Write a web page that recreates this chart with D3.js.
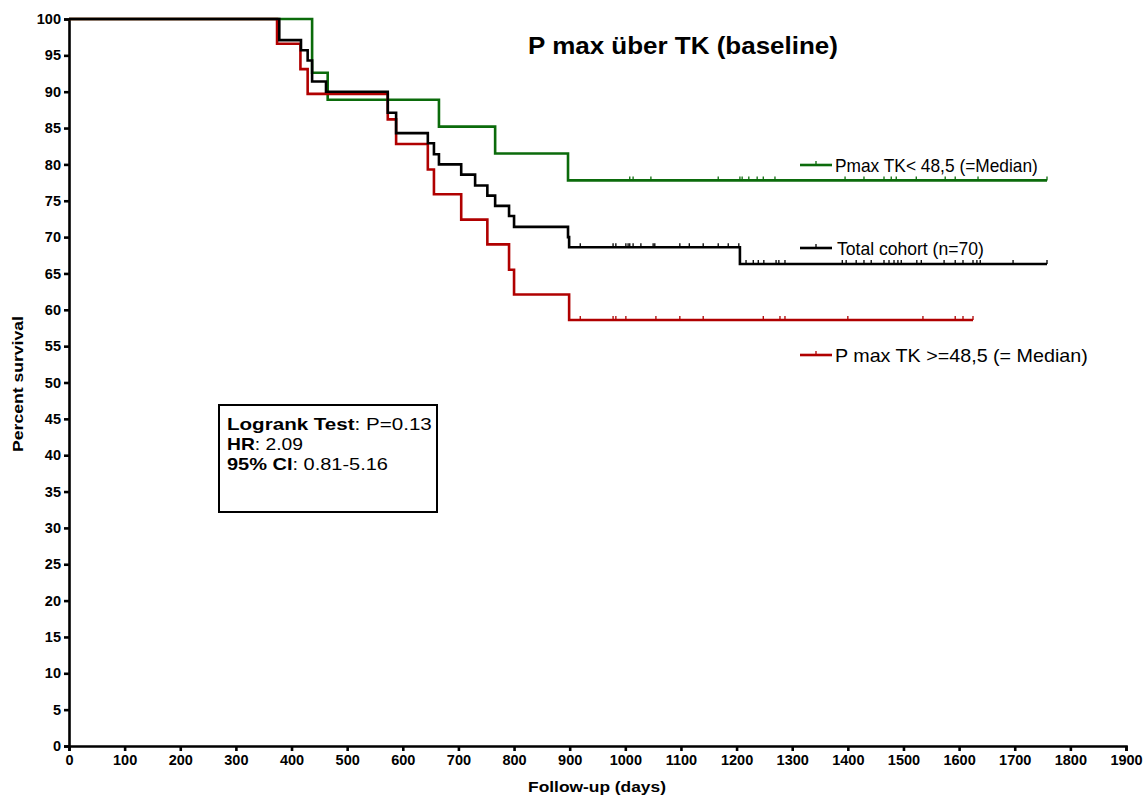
<!DOCTYPE html>
<html>
<head>
<meta charset="utf-8">
<script src="https://cdn.jsdelivr.net/npm/d3@7"></script>
<style>
  body { margin: 0; background: #fff; }
  svg { font-family: "Liberation Sans", Arial, sans-serif; }
</style>
</head>
<body>
<svg id="drawing_region"></svg>
<script>
// Kaplan-Meier steps: event times (days) and survival (%) after each drop
const greenTimes = [0, 437, 465, 665, 766, 897];
const greenSurv  = [100, 92.6, 88.9, 85.2, 81.5, 77.8];
const greenEnd = 1758;
const greenCensor = [1008, 1014, 1046, 1167, 1206, 1210, 1222, 1237, 1248, 1269,
                     1395, 1429, 1465, 1478, 1487, 1523, 1575, 1593, 1634, 1758];

const redTimes = [0, 374, 416, 429, 573, 588, 645, 656, 705, 752, 791, 800, 899];
const redSurv  = [100, 96.6, 93.1, 89.7, 86.2, 82.8, 79.3, 75.9, 72.4, 69.0, 65.5, 62.1, 58.6];
const redEnd = 1625;
const redCensor = [919, 978, 983, 1001, 1055, 1098, 1140, 1248, 1278, 1287, 1400, 1535, 1593, 1607, 1625];

const totalTimes = [0, 378, 417, 429, 437, 462, 573, 588, 645, 656, 665, 705, 730, 752, 766, 791, 800, 897, 899, 1206];
const totalSurv  = [100, 97.1, 95.7, 94.3, 91.4, 90.0, 87.1, 84.3, 82.9, 81.4, 80.0, 78.6, 77.1, 75.7, 74.3, 72.9, 71.4, 70.0, 68.6, 66.3];
const totalEnd = 1758;
const totalCensor = [919, 978, 983, 1001, 1005, 1008, 1014, 1028, 1050, 1053, 1098, 1115, 1140, 1167, 1185, 1204,
                     1217, 1230, 1239, 1249, 1271, 1276, 1287, 1390, 1397, 1415, 1429, 1442, 1465, 1474, 1483,
                     1490, 1496, 1524, 1532, 1573, 1593, 1607, 1625, 1632, 1638, 1697, 1758];

const seriesNames = ["Pmax TK< 48,5 (=Median)", "Total cohort (n=70)", "P max TK >=48,5 (= Median)"];
const xTicks = d3.range(0, 1901, 100);
const yTicks = d3.range(0, 101, 5);

const config = {
    width: 1147,
    height: 796,
    margin: {top: 19, right: 21, bottom: 50, left: 69}
};

const svg = d3.select('#drawing_region')
    .attr('width', config.width)
    .attr('height', config.height);

const inner_width = 1126 - config.margin.left;
const inner_height = 746 - config.margin.top;

const chart = svg.append('g')
    .attr('transform', `translate(${config.margin.left}, ${config.margin.top})`);

const xscale = d3.scaleLinear().domain([0, 1900]).range([0, inner_width]);
const yscale = d3.scaleLinear().domain([0, 100]).range([inner_height, 0]);

// stretch a text horizontally (along its own direction) to a target width
function fit(text, target) {
    const w = text.node().getComputedTextLength();
    const t = text.attr('transform') || '';
    text.attr('transform', `${t} scale(${target / w}, 1)`);
}

// axes
const xaxis = d3.axisBottom(xscale).tickValues(xTicks).tickFormat(d3.format('d'))
    .tickSizeOuter(0).tickSize(5).tickPadding(4);
const yaxis = d3.axisLeft(yscale).tickValues(yTicks).tickFormat(d3.format('d'))
    .tickSizeOuter(0).tickSize(5).tickPadding(3);

const xg = chart.append('g')
    .attr('transform', `translate(0, ${inner_height})`)
    .call(xaxis);
const yg = chart.append('g').call(yaxis);

[xg, yg].forEach(g => {
    g.select('.domain').attr('stroke-width', 2.6).attr('stroke', '#000');
    g.selectAll('.tick line').attr('stroke-width', 2.6).attr('stroke', '#000');
    g.selectAll('.tick text')
        .attr('font-family', '"Liberation Sans", Arial, sans-serif')
        .attr('font-size', '14.5px')
        .attr('font-weight', 'bold')
        .attr('fill', '#000');
});

// axis titles
const xtitle = svg.append('text')
    .attr('transform', 'translate(597, 792)')
    .attr('text-anchor', 'middle')
    .attr('font-size', '15px').attr('font-weight', 'bold')
    .text('Follow-up (days)');
fit(xtitle, 138);

const ytitle = svg.append('text')
    .attr('transform', 'translate(23, 384) rotate(-90)')
    .attr('text-anchor', 'middle')
    .attr('font-size', '15px').attr('font-weight', 'bold')
    .text('Percent survival');
fit(ytitle, 136);

// title
const title = svg.append('text')
    .attr('transform', 'translate(683, 54)')
    .attr('text-anchor', 'middle')
    .attr('font-size', '24px').attr('font-weight', 'bold')
    .text('P max über TK (baseline)');
fit(title, 310);

// survival curves
const line = d3.line()
    .x(d => xscale(d[0]))
    .y(d => yscale(d[1]))
    .curve(d3.curveStepAfter);

function survAt(times, surv, t) {
    let s = surv[0];
    for (let i = 0; i < times.length; i++) if (times[i] <= t) s = surv[i];
    return s;
}

const series = [
    {times: greenTimes, surv: greenSurv, end: greenEnd, censor: greenCensor, color: '#0b6b0b'},
    {times: redTimes, surv: redSurv, end: redEnd, censor: redCensor, color: '#b00000'},
    {times: totalTimes, surv: totalSurv, end: totalEnd, censor: totalCensor, color: '#000000'}
];

series.forEach(s => {
    const pts = s.times.map((t, i) => [t, s.surv[i]]);
    pts.push([s.end, s.surv[s.surv.length - 1]]);
    chart.append('path')
        .attr('d', line(pts))
        .attr('fill', 'none')
        .attr('stroke', s.color)
        .attr('stroke-width', 2.6);

    chart.selectAll(null).data(s.censor)
        .enter()
        .append('line')
        .attr('x1', d => xscale(d))
        .attr('x2', d => xscale(d))
        .attr('y1', d => yscale(survAt(s.times, s.surv, d)))
        .attr('y2', d => yscale(survAt(s.times, s.surv, d)) - 4)
        .attr('stroke', s.color)
        .attr('stroke-width', 1.3);
});

// legend entries
const legend = [
    {name: seriesNames[0], color: '#0b6b0b', y: 165, x: 835, w: 203},
    {name: seriesNames[1], color: '#000000', y: 248, x: 837, w: 147},
    {name: seriesNames[2], color: '#b00000', y: 355, x: 835, w: 253}
];
legend.forEach(l => {
    const g = svg.append('g');
    g.append('line')
        .attr('x1', 800).attr('x2', 832).attr('y1', l.y).attr('y2', l.y)
        .attr('stroke', l.color).attr('stroke-width', 2.6);
    g.append('line')
        .attr('x1', 816).attr('x2', 816).attr('y1', l.y).attr('y2', l.y - 4)
        .attr('stroke', l.color).attr('stroke-width', 1.3);
    const t = g.append('text')
        .attr('transform', `translate(${l.x}, ${l.y + 7})`)
        .attr('font-size', '17.5px')
        .text(l.name);
    fit(t, l.w);
});

// statistics box
svg.append('rect')
    .attr('x', 219).attr('y', 405)
    .attr('width', 218).attr('height', 107)
    .attr('fill', 'none').attr('stroke', '#000').attr('stroke-width', 2);

const stats = [
    ['Logrank Test', ': P=0.13', 205],
    ['HR', ': 2.09', 76],
    ['95% CI', ': 0.81-5.16', 161]
];
stats.forEach((s, i) => {
    const t = svg.append('text')
        .attr('transform', `translate(227, ${430 + i * 20})`)
        .attr('font-size', '17px');
    t.append('tspan').attr('font-weight', 'bold').text(s[0]);
    t.append('tspan').text(s[1]);
    fit(t, s[2]);
});
</script>
</body>
</html>
